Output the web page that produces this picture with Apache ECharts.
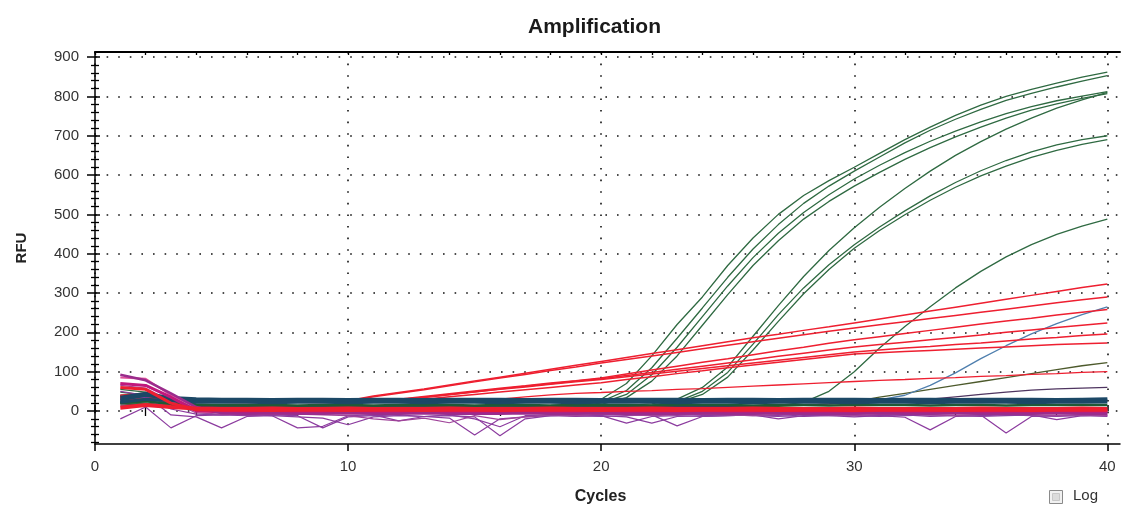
<!DOCTYPE html>
<html>
<head>
<meta charset="utf-8">
<script src="https://cdn.jsdelivr.net/npm/echarts@6/dist/echarts.min.js"></script>
<style>
html,body{margin:0;padding:0;background:#fff;}
#chart{width:1122px;height:510px;}
</style>
</head>
<body>
<div id="chart"></div>
<script>
// ---------- DATA ----------
const cycles = [1,2,3,4,5,6,7,8,9,10,11,12,13,14,15,16,17,18,19,20,21,22,23,24,25,26,27,28,29,30,31,32,33,34,35,36,37,38,39,40];
const xTickLabels = [0,10,20,30,40];
const yTickLabels = [0,100,200,300,400,500,600,700,800,900];

// green amplification curves
const greenA = [55,48,28,18,15,14,14,13,13,12,12,12,12,12,12,12,13,14,18,30,70,140,220,290,370,440,500,548,586,620,655,690,722,752,778,800,818,834,849,862];
const greenB = [48,40,25,16,14,13,13,12,12,12,11,11,11,11,11,12,12,13,15,24,52,110,185,262,340,412,474,528,572,610,646,682,714,742,767,790,808,824,839,853];
const greenC = [40,44,24,15,13,12,12,11,11,11,11,10,10,10,10,11,11,12,13,20,42,92,162,240,318,390,452,505,550,590,625,657,686,712,735,756,774,789,801,812];
const greenD = [35,30,20,14,12,11,11,10,10,10,10,10,10,10,10,10,11,11,12,17,34,76,140,218,296,370,433,488,533,572,607,640,670,697,722,745,765,781,795,807];
const greenE = [30,25,18,13,12,11,11,10,10,10,10,10,10,10,10,10,10,11,11,12,14,18,30,60,112,190,268,342,408,466,518,566,610,650,685,717,745,770,791,810];
const greenF = [25,20,15,12,11,10,10,10,10,9,9,9,9,9,9,9,10,10,10,11,12,15,24,50,98,170,245,313,372,423,468,509,547,581,611,637,659,677,690,700];
const greenG = [22,18,14,11,10,10,9,9,9,9,9,9,9,9,9,9,9,10,10,10,11,14,21,42,86,155,228,298,360,414,459,499,536,569,598,623,645,663,678,690];
const greenH = [20,16,13,11,10,10,10,9,9,9,9,9,9,9,9,9,9,9,9,10,10,10,10,10,11,12,14,22,50,100,160,215,265,313,355,392,423,449,470,488];
const oliveI = [18,15,12,10,10,10,9,9,9,9,9,9,9,9,9,9,9,9,9,10,10,10,10,10,10,11,12,14,18,24,35,45,55,65,75,85,95,105,115,123];
const plumJ = [15,14,12,11,10,10,10,10,10,10,10,10,10,10,10,10,10,10,10,10,10,11,11,12,12,13,14,16,18,20,22,26,30,36,42,48,53,56,58,60];
const blueK = [26,30,27,25,25,25,25,25,25,25,25,25,25,25,25,25,25,25,25,25,25,25,25,25,25,25,25,25,26,26,28,40,65,97,133,166,196,222,245,265];

// red curves
const redA = [40,45,30,24,23,23,22,23,22,26,38,47,56,66,76,86,96,106,116,126,136,146,156,166,176,186,195,205,214,224,234,244,254,264,274,284,294,304,314,323];
const redB = [38,42,28,23,22,22,22,22,22,25,36,45,54,64,74,84,93,103,112,122,131,140,149,158,167,176,185,194,203,211,219,227,235,243,251,259,267,275,283,290];
const redC = [35,40,27,24,24,23,24,23,24,24,25,30,37,44,51,58,64,71,77,84,94,104,114,124,133,143,153,162,172,181,189,197,205,213,221,229,236,244,251,258];
const redD = [34,38,26,24,23,23,23,24,23,24,25,29,35,42,49,56,63,69,76,82,90,98,106,114,122,130,139,147,155,163,169,175,181,187,193,200,206,212,218,224];
const redE = [32,36,26,23,23,22,23,23,22,23,24,28,34,41,48,55,61,68,74,80,87,94,101,108,115,122,129,136,143,150,155,160,164,169,173,178,183,187,192,196];
const redF = [30,35,25,23,23,22,22,23,22,22,23,25,30,36,42,48,54,60,66,72,80,87,95,102,110,117,124,131,138,145,148,151,154,157,160,163,166,169,171,173];
const redG = [28,30,24,22,22,21,22,22,21,22,22,22,22,22,23,30,36,41,45,47,50,52,55,57,60,63,66,69,72,75,78,80,83,85,88,90,93,95,98,100];

// baseline bundles
const navyA = [28,40,30,27,26,26,25,26,25,26,25,25,26,25,25,26,25,25,26,25,25,26,25,26,25,25,26,25,25,26,25,25,26,25,25,26,25,26,26,27];
const navyB = [22,30,26,22,22,22,21,22,22,21,22,22,21,22,22,21,22,22,21,22,22,22,21,22,22,21,22,22,22,21,22,22,21,22,22,22,21,22,22,23];
const navyC = [35,45,34,31,30,30,29,30,30,29,30,30,29,30,30,30,29,30,30,29,30,30,30,29,30,30,29,30,30,30,29,30,30,29,30,30,30,29,30,31];
const greenBase = [20,25,18,16,15,15,15,14,15,15,14,15,15,15,14,15,15,14,15,15,15,14,15,15,15,14,15,15,14,15,15,15,14,15,15,14,15,15,15,15];
const redBaseA = [8,15,10,6,5,5,6,5,5,6,5,5,5,6,5,5,5,6,5,5,5,6,5,5,5,6,5,5,5,6,5,5,5,5,6,5,5,5,6,5];
const redBaseB = [60,55,20,3,2,2,1,2,2,1,2,2,1,2,2,1,2,2,2,1,2,2,1,2,2,2,1,2,2,1,2,2,2,1,2,2,1,2,2,2];
const magentaA = [70,65,35,0,-2,-3,-3,-2,-3,-3,-2,-3,-3,-2,-3,-3,-3,-2,-3,-3,-2,-3,-3,-3,-2,-3,-3,-2,-3,-3,-3,-2,-3,-3,-2,-3,-3,-3,-2,-3];
const magentaB = [92,78,45,10,-6,-7,-6,-7,-7,-6,-7,-7,-6,-7,-7,-7,-6,-7,-7,-6,-7,-7,-7,-6,-7,-7,-6,-7,-7,-7,-6,-7,-7,-6,-7,-7,-7,-6,-7,-7];
const pinkA = [85,82,40,8,0,-1,0,1,0,-1,0,1,0,0,-1,0,1,0,0,-1,0,0,1,0,0,-1,0,0,1,0,0,-1,0,0,1,0,0,-1,0,0];
const purpleA = [-20,10,-43,-12,-10,-12,-10,-12,-43,-15,-12,-10,-14,-12,-15,-63,-20,-12,-10,-12,-15,-31,-14,-12,-10,-12,-14,-10,-12,-15,-12,-10,-14,-12,-10,-56,-14,-12,-10,-12];
const purpleB = [50,40,-10,-15,-43,-14,-12,-15,-18,-35,-15,-12,-14,-18,-61,-20,-15,-12,-14,-12,-31,-14,-12,-14,-12,-10,-12,-14,-12,-10,-12,-16,-48,-14,-12,-10,-12,-14,-12,-10];
const purpleC = [30,35,5,-8,-10,-8,-12,-43,-39,-12,-10,-25,-14,-10,-20,-40,-12,-10,-12,-14,-12,-10,-38,-14,-12,-10,-20,-12,-10,-12,-14,-12,-10,-12,-14,-12,-10,-22,-12,-14];
const purpleD = [65,58,25,-5,-8,-10,-9,-8,-10,-12,-20,-25,-18,-30,-12,-22,-15,-10,-12,-8,-10,-12,-10,-8,-10,-12,-9,-8,-10,-12,-9,-8,-10,-12,-9,-8,-10,-12,-10,-12];

// ---------- BUILD ----------
const FONT = 'Liberation Sans, Arial, sans-serif';
function pts(arr){ return cycles.map((c,i)=>[c, arr[i]]); }
function line(name, arr, color, width, z){
  return {name, type:'line', data:pts(arr), symbol:'none', smooth:false,
    lineStyle:{color, width}, z: z||2, silent:true, animation:false};
}
const GREEN = '#2f6a42', RED = '#ee1f30', NAVY = '#1c4866', PURPLE = '#8c3c9f';
const series = [
  line('greenA', greenA, GREEN, 1.3),
  line('greenB', greenB, GREEN, 1.3),
  line('greenC', greenC, GREEN, 1.3),
  line('greenD', greenD, GREEN, 1.3),
  line('greenE', greenE, GREEN, 1.3),
  line('greenF', greenF, GREEN, 1.3),
  line('greenG', greenG, GREEN, 1.3),
  line('greenH', greenH, GREEN, 1.3),
  line('oliveI', oliveI, '#4d5a2c', 1.3),
  line('plumJ', plumJ, '#4f3560', 1.3),
  line('blueK', blueK, '#4f7fae', 1.3),
  line('redA', redA, RED, 1.5),
  line('redB', redB, RED, 1.5),
  line('redC', redC, RED, 1.5),
  line('redD', redD, RED, 1.5),
  line('redE', redE, RED, 1.5),
  line('redF', redF, RED, 1.5),
  line('redG', redG, RED, 1.3),
  line('purpleA', purpleA, PURPLE, 1.2, 3),
  line('purpleB', purpleB, PURPLE, 1.2, 3),
  line('purpleC', purpleC, PURPLE, 1.2, 3),
  line('purpleD', purpleD, '#a0459a', 1.2, 3),
  line('greenBase', greenBase, '#1f5a36', 2.5, 4),
  line('navyA', navyA, NAVY, 3, 4),
  line('navyB', navyB, NAVY, 3, 4),
  line('navyC', navyC, NAVY, 3, 4),
  line('pinkA', pinkA, '#e0509a', 2, 4),
  line('magentaA', magentaA, '#c0187c', 3, 4),
  line('magentaB', magentaB, '#9a2c8c', 2.5, 4),
  line('redBaseA', redBaseA, RED, 4, 5),
  line('redBaseB', redBaseB, RED, 3, 5)
];

const xMinor = [], yMinor = [];
for (let v = 2; v < 40; v += 2) if (v % 10) xMinor.push(v);
for (let v = -80; v < 913; v += 20) if (v % 100) yMinor.push(v);
const evens = xMinor.concat(xTickLabels);

const XMIN = 0, XMAX = 40.5, YMIN = -84, YMAX = 913;
const dotted = {show:true, lineStyle:{color:'#111', width:1.6, type:[1.6, 10]}};
function xAx(extra){ return Object.assign({type:'value', min:XMIN, max:XMAX, gridIndex:0,
  axisLine:{show:false}, axisLabel:{show:false}, splitLine:{show:false}, axisTick:{show:false}}, extra); }
function yAx(extra){ return Object.assign({type:'value', min:YMIN, max:YMAX, gridIndex:0,
  axisLine:{show:false}, axisLabel:{show:false}, splitLine:{show:false}, axisTick:{show:false}}, extra); }

const option = {
  backgroundColor:'#fff',
  animation:false,
  title:{text:'Amplification', left:523, top:12,
    textStyle:{fontFamily:FONT, fontSize:21, fontWeight:'bold', color:'#1a1a1a'}},
  grid:{left:95, right:2, top:52, bottom:66, containLabel:false},
  xAxis:[
    xAx({position:'bottom', name:'Cycles', nameLocation:'middle', nameGap:45,
      nameTextStyle:{fontFamily:FONT, fontSize:16, fontWeight:'bold', color:'#222', padding:[0,14,0,0]},
      axisLine:{show:true, onZero:false, lineStyle:{color:'#000', width:1.5}},
      axisTick:{show:true, inside:false, length:7, customValues:xTickLabels, lineStyle:{color:'#000', width:1.5}},
      axisLabel:{show:true, margin:15, customValues:xTickLabels, fontFamily:FONT, fontSize:15, color:'#333'},
      splitLine:dotted}),
    xAx({position:'bottom', axisTick:{show:true, inside:false, length:5, customValues:xMinor, lineStyle:{color:'#000', width:1.3}}}),
    xAx({position:'bottom', axisTick:{show:true, inside:true, length:6, customValues:xTickLabels, lineStyle:{color:'#000', width:1.5}}}),
    xAx({position:'bottom', axisTick:{show:true, inside:true, length:4, customValues:xMinor, lineStyle:{color:'#000', width:1.3}}}),
    xAx({position:'top', axisLine:{show:true, onZero:false, lineStyle:{color:'#000', width:2}},
      axisTick:{show:true, inside:true, length:3, customValues:evens, lineStyle:{color:'#000', width:1.3}}})
  ],
  yAxis:[
    yAx({position:'left', name:'RFU', nameLocation:'middle', nameGap:66, nameRotate:90,
      nameTextStyle:{fontFamily:FONT, fontSize:15, fontWeight:'bold', color:'#222'},
      axisLine:{show:true, onZero:false, lineStyle:{color:'#000', width:1.5}},
      axisTick:{show:true, inside:false, length:8, customValues:yTickLabels, lineStyle:{color:'#000', width:1.5}},
      axisLabel:{show:true, margin:16, customValues:yTickLabels, fontFamily:FONT, fontSize:15, color:'#333'},
      splitLine:dotted}),
    yAx({position:'left', axisTick:{show:true, inside:false, length:4, customValues:yMinor, lineStyle:{color:'#000', width:1.3}}}),
    yAx({position:'left', axisTick:{show:true, inside:true, length:5, customValues:yTickLabels, lineStyle:{color:'#000', width:1.5}}}),
    yAx({position:'left', axisTick:{show:true, inside:true, length:4, customValues:yMinor, lineStyle:{color:'#000', width:1.3}}})
  ],
  series: series,
  graphic:[
    {type:'rect', left:1049, top:490, shape:{width:13, height:13},
      style:{fill:'#f1f1f1', stroke:'#8a8a8a', lineWidth:1}},
    {type:'rect', left:1052, top:493, shape:{width:7, height:7},
      style:{fill:'#dcdcdc', stroke:'#c8c8c8', lineWidth:1}},
    {type:'text', left:1073, top:488,
      style:{text:'Log', font:'15px ' + FONT, fill:'#333'}}
  ]
};
const chart = echarts.init(document.getElementById('chart'), null, {renderer:'canvas'});
chart.setOption(option);
</script>
</body>
</html>
